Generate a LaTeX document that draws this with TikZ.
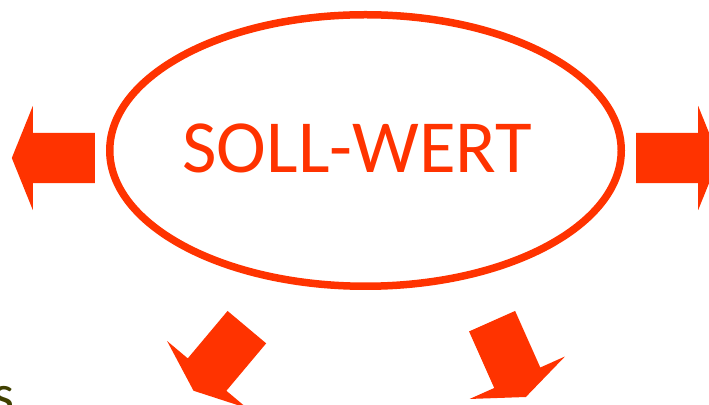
\documentclass[tikz,border=0pt]{standalone}
\usepackage{fontspec}
\setmainfont{Carlito}
\usepackage{tikz}
\usetikzlibrary{positioning,shapes.geometric,shapes.arrows,calc}
\usepackage{xcolor}
\definecolor{SollRed}{RGB}{255,51,0}
\definecolor{OliveText}{RGB}{64,64,0}

\begin{document}
\begin{tikzpicture}[
    x=1pt, y=1pt,
    oval/.style={ellipse, draw=SollRed, line width=7.5pt, minimum width=511.5pt,
        minimum height=271.5pt, inner sep=0pt},
    valtext/.style={font=\fontsize{75}{86}\selectfont, text=SollRed, inner sep=0pt},
    bigarrow/.style={single arrow, fill=SollRed, draw=none, inner xsep=0pt, inner ysep=25pt,
        single arrow head extend=27pt, single arrow tip angle=136, minimum height=83pt,
        anchor=tail},
]
\useasboundingbox (0,0) rectangle (709,404);

\node[oval] (soll) at (365.5,253.5) {};
\node[valtext] (sollText) at ($(soll.center)+(-8,2.5)$) {SOLL-WERT};

\node[bigarrow, rotate=180] (arrowLeft) at (95,246) {};
\node[bigarrow, rotate=0] (arrowRight) at (636,246) {};
\node[bigarrow, rotate=230] (arrowDownLeft) at (247,77) {};
\node[bigarrow, rotate=294] (arrowDownRight) at (492,83) {};

\node[font=\fontsize{56}{66}\selectfont, text=OliveText, anchor=north east, inner sep=0pt]
    (cutS) at (15,18) {s};
\end{tikzpicture}
\end{document}
